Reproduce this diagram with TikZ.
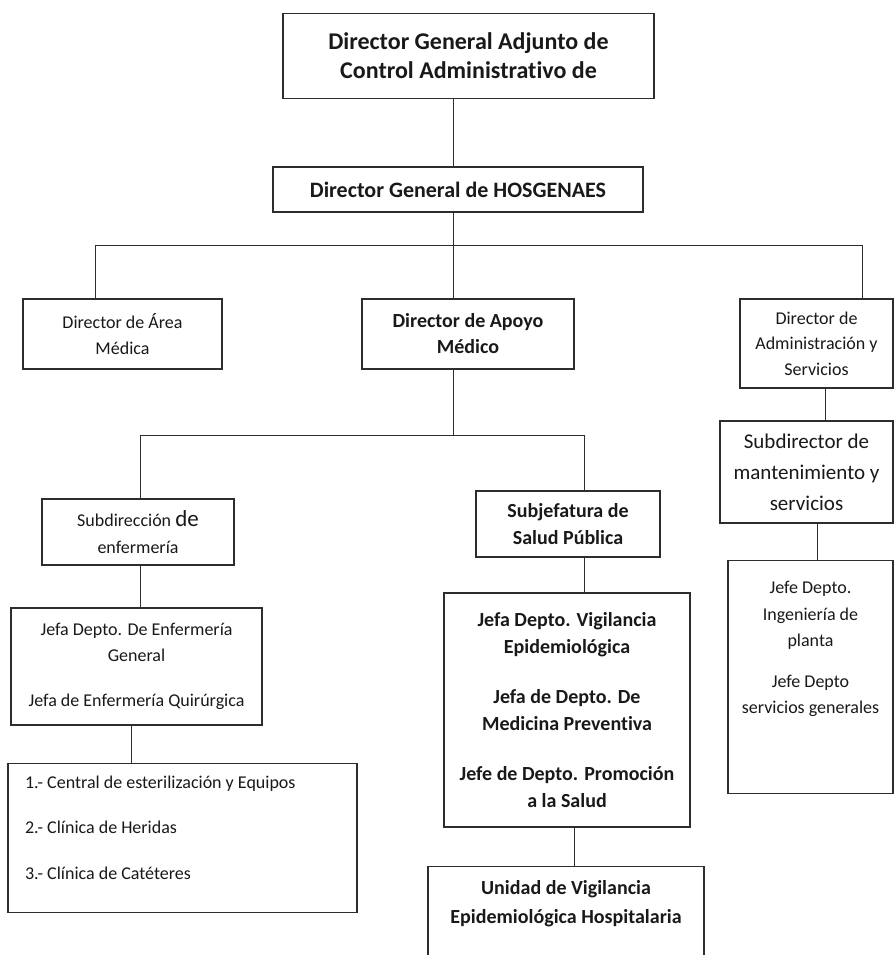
\documentclass[tikz,border=0pt]{standalone}
\usepackage{fontspec}
\setmainfont{Carlito}[Ligatures=NoCommon]
\usepackage{xcolor}
\usepackage{tikz}
\definecolor{orgline}{RGB}{45,45,45}
\definecolor{orgtext}{RGB}{25,25,25}

\begin{document}
\begin{tikzpicture}[x=1pt, y=-1pt,
  box/.style={draw=orgline, line width=1.1pt, inner sep=0pt, align=center, text=orgtext},
  link/.style={draw=orgline, line width=0.8pt},
  reg/.style={font=\fontsize{18}{25.5}\selectfont},
  bld/.style={font=\fontsize{20}{27}\selectfont\bfseries}]
\clip (0,0) rectangle (896,955);
\fill[white] (0,0) rectangle (896,955);

% Direccion general
\node[box, minimum width=371, minimum height=85, font=\fontsize{24}{29}\selectfont\bfseries] (dgadj) at (468.5,56) {Director General Adjunto de\\Control Administrativo de};
\node[box, minimum width=370, minimum height=45, font=\fontsize{22}{27}\selectfont\bfseries] (dghos) at (458,189.5) {Director General de HOSGENAES};

% Direcciones de area
\node[box, reg, minimum width=199, minimum height=70] (area) at (122.5,334) {Director de Área\\Médica};
\node[box, bld, font=\fontsize{20}{26}\selectfont\bfseries, minimum width=212, minimum height=70] (apoyo) at (468,334) {Director de Apoyo\\Médico};
\node[box, reg, minimum width=153, minimum height=89] (admin) at (816.5,343.5) {Director de\\Administración y\\Servicios};

% Rama de administracion
\node[box, minimum width=173, minimum height=102, font=\fontsize{21}{31}\selectfont] (submant) at (806.5,472) {Subdirector de\\mantenimiento y\\servicios};
\node[box, reg, font=\fontsize{18}{26.5}\selectfont, anchor=north] (planta) at (810.5,560) {\parbox[c][233pt][t]{165pt}{\centering\vspace{21pt}Jefe Depto.\\Ingeniería de\\planta\\[14pt]Jefe Depto\\servicios generales}};

% Rama de enfermeria
\node[box, reg, font=\fontsize{18}{27}\selectfont, minimum width=192, minimum height=66] (subenf) at (138,532) {Subdirección {\fontsize{23}{27}\selectfont de}\\enfermería};
\node[box, reg, minimum width=251, minimum height=117] (jefaenf) at (136.5,666.5) {Jefa Depto. De Enfermería\\General\\[20pt]Jefa de Enfermería Quirúrgica};
\node[box, reg, inner xsep=17pt, anchor=north] (clinicas) at (182.5,763) {\parbox[c][149pt][t]{315pt}{\raggedright\vspace{12pt}1.- Central de esterilización y Equipos\\[20pt]2.- Clínica de Heridas\\[20pt]3.- Clínica de Catéteres}};

% Rama de salud publica
\node[box, bld, minimum width=184, minimum height=66] (subjef) at (568,524) {Subjefatura de\\Salud Pública};
\node[box, bld, minimum width=246, minimum height=234] (vigil) at (567,710) {Jefa Depto. Vigilancia\\Epidemiológica\\[23pt]Jefa de Depto. De\\Medicina Preventiva\\[23pt]Jefe de Depto. Promoción\\a la Salud};
\node[box, font=\fontsize{20}{29}\selectfont\bfseries, anchor=north] (unidad) at (566,866) {\parbox[c][120pt][t]{276pt}{\centering\vspace{14pt}Unidad de Vigilancia\\Epidemiológica Hospitalaria}};

% Lineas de mando
\coordinate (bus1) at (453,245);
\coordinate (c1) at (95,245);
\coordinate (c2) at (862,245);
\draw[link] (dgadj.south -| bus1) -- (dghos.north -| bus1);
\draw[link] (dghos.south -| bus1) -- (apoyo.north -| bus1);
\draw[link] (c1 |- area.north) -- (c1) -- (c2) -- (c2 |- admin.north);

\coordinate (c3) at (140,435);
\coordinate (c4) at (584,435);
\draw[link] (apoyo.south -| bus1) -- (bus1 |- c3);
\draw[link] (c3 |- subenf.north) -- (c3) -- (c4) -- (c4 |- subjef.north);

\coordinate (c5) at (825,0);
\coordinate (c6) at (817,0);
\draw[link] (admin.south -| c5) -- (submant.north -| c5);
\draw[link] (submant.south -| c6) -- (planta.north -| c6);

\coordinate (c7) at (140,0);
\coordinate (c8) at (131,0);
\draw[link] (subenf.south -| c7) -- (jefaenf.north -| c7);
\draw[link] (jefaenf.south -| c8) -- (clinicas.north -| c8);

\coordinate (c9) at (584,0);
\coordinate (c10) at (574,0);
\draw[link] (subjef.south -| c9) -- (vigil.north -| c9);
\draw[link] (vigil.south -| c10) -- (unidad.north -| c10);
\end{tikzpicture}
\end{document}
